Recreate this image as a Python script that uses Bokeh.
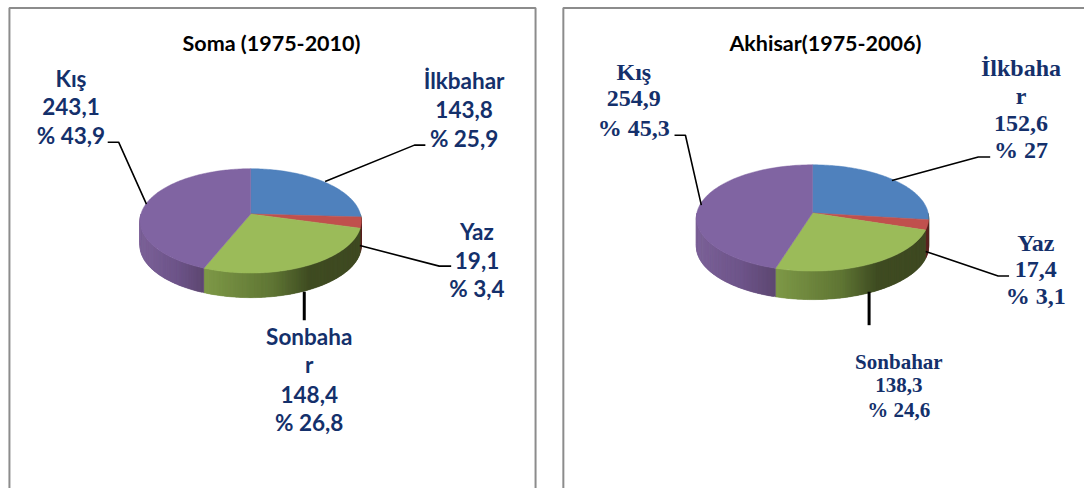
import math
from bokeh.plotting import figure
from bokeh.models import Range1d
from bokeh.core.properties import value
from bokeh.embed import file_html
from bokeh.resources import INLINE

# ---- data
categories = ["İlkbahar", "Yaz", "Sonbahar", "Kış"]
soma_totals = [143.8, 19.1, 148.4, 243.1]
soma_pct = [25.9, 3.4, 26.8, 43.9]
akhisar_totals = [152.6, 17.4, 138.3, 254.9]
akhisar_pct = [27.0, 3.1, 24.6, 45.3]
titles = ["Soma (1975-2010)", "Akhisar(1975-2006)"]
soma_text = [["İlkbahar", "143,8", "% 25,9"], ["Yaz", "19,1", "% 3,4"],
             ["Sonbaha", "r", "148,4", "% 26,8"], ["Kış", "243,1", "% 43,9"]]
akhisar_text = [["İlkbaha", "r", "152,6", "% 27"], ["Yaz", "17,4", "% 3,1"],
                ["Sonbahar", "138,3", "% 24,6"], ["Kış", "254,9", "% 45,3"]]

# ---- style
top_colors = ["#4f81bd", "#c0504d", "#9bbb59", "#8064a2"]
side_stops = {
    2: [(0.0, "#7f9a48"), (0.45, "#5f7534"), (0.68, "#3f4c22"), (1.0, "#3f4a23")],
    3: [(0.0, "#7d6399"), (0.6, "#6d5489"), (1.0, "#5e4872")],
    1: [(0.0, "#5c2422"), (1.0, "#5c2422")],
    0: [(0.0, "#3f4a23"), (1.0, "#3f4a23")],
}
NAVY = "#14306b"


def hexmix(stops, t):
    for (t0, c0), (t1, c1) in zip(stops, stops[1:]):
        if t <= t1:
            f = (t - t0) / (t1 - t0)
            a = [int(c0[i:i + 2], 16) for i in (1, 3, 5)]
            b = [int(c1[i:i + 2], 16) for i in (1, 3, 5)]
            return "#%02x%02x%02x" % tuple(round(x + (y - x) * f) for x, y in zip(a, b))
    return stops[-1][1]


p = figure(width=1084, height=488, x_range=Range1d(0, 1092), y_range=Range1d(496, 0),
           output_backend="svg", toolbar_location=None, min_border=0,
           outline_line_color=None, background_fill_color="white", border_fill_color="white")
p.axis.visible = False
p.grid.visible = False


def pie(pct, cx, cy, rx, up, down, depth):
    a = 2 * up * down / (up + down)
    k = (down - up) / (down + up)
    b = rx * math.sqrt(1 - k * k)

    def rim(th):
        u, v = math.sin(th), -math.cos(th)
        d = 1 - k * v
        return cx + b * u / d, cy + a * v / d

    edges = [0.0]
    for x in pct:
        edges.append(edges[-1] + x / sum(pct) * 2 * math.pi)
    for i in range(len(pct)):
        lo, hi = max(edges[i], math.pi * 0.5), min(edges[i + 1], math.pi * 1.5)
        if hi <= lo:
            continue
        s = side_stops[i]
        m = max(3, int((hi - lo) / 0.015))
        arc = [rim(lo + (hi - lo) * j / m) for j in range(m + 1)]
        x_left, x_right = min(q[0] for q in arc), max(q[0] for q in arc)
        for j in range(m):
            seg = arc[j:j + 3]
            f = (seg[0][0] - x_left) / max(1, x_right - x_left)
            c = hexmix(s, min(1, max(0, f)))
            p.patch([q[0] for q in seg] + [q[0] for q in reversed(seg)],
                    [q[1] for q in seg] + [q[1] + depth for q in reversed(seg)],
                    fill_color=c, line_color=c, line_width=0.3)
    for i in range(len(pct)):
        n = max(3, int((edges[i + 1] - edges[i]) / 0.02))
        pts = [rim(edges[i] + (edges[i + 1] - edges[i]) * j / n) for j in range(n + 1)]
        p.patch([cx] + [q[0] for q in pts], [cy] + [q[1] for q in pts],
                fill_color=top_colors[i], line_color=top_colors[i], line_width=0.5)


pie(soma_pct, 252, 217, 111.5, 46, 60, 25)
pie(akhisar_pct, 818, 216, 117, 49, 59, 29)

# panel frames
for xs, ys in [([9, 9, 539, 539], [496, 7.5, 7.5, 496]),
               ([567, 567, 1092], [496, 7.5, 7.5])]:
    p.line(xs, ys, line_color="#8c8c8c", line_width=2)

# leader lines
for xs, ys, w in [
    ([108, 119, 147], [144, 144, 207], 1.6), ([327, 417, 428], [184, 147, 147], 1.6),
    ([362, 442, 454], [249, 270, 270], 1.6), ([306, 306], [296, 325], 3),
    ([679, 690, 706], [137, 137, 208], 1.6), ([898, 985, 997], [183, 159, 159], 1.6),
    ([932, 1005, 1016], [255, 280, 280], 1.6), ([875, 875], [296, 330], 3),
]:
    p.line(xs, ys, line_color="black", line_width=w)


def label(lines, x, ys, font, size, color=NAVY):
    for s, y in zip(lines, ys):
        p.text([x], [y], text=[s], text_font=value(font), text_font_size=size,
               text_font_style="bold", text_color=color, text_align="center",
               text_baseline="middle")


label([titles[0]], 273, [43], "Lato", "21.5px", "#000000")
label([titles[1]], 831, [43], "Lato", "21.5px", "#000000")
label(soma_text[0], 467, [81, 111, 140], "Lato", "22.5px")
label(soma_text[1], 480, [235, 264, 293], "Lato", "22.5px")
label(soma_text[2], 311, [341, 370, 400, 429], "Lato", "22.5px")
label(soma_text[3], 71, [79, 108, 137], "Lato", "22.5px")
SERIF = "Liberation Serif"
label(akhisar_text[0], 1028, [69, 97, 125, 152], SERIF, "24px")
label(akhisar_text[1], 1043, [246, 273, 300], SERIF, "24px")
label(akhisar_text[2], 905, [367, 391, 416], SERIF, "21px")
label(akhisar_text[3], 638, [73, 100, 130], SERIF, "24px")

open("out.html", "w").write(file_html(p, INLINE))
